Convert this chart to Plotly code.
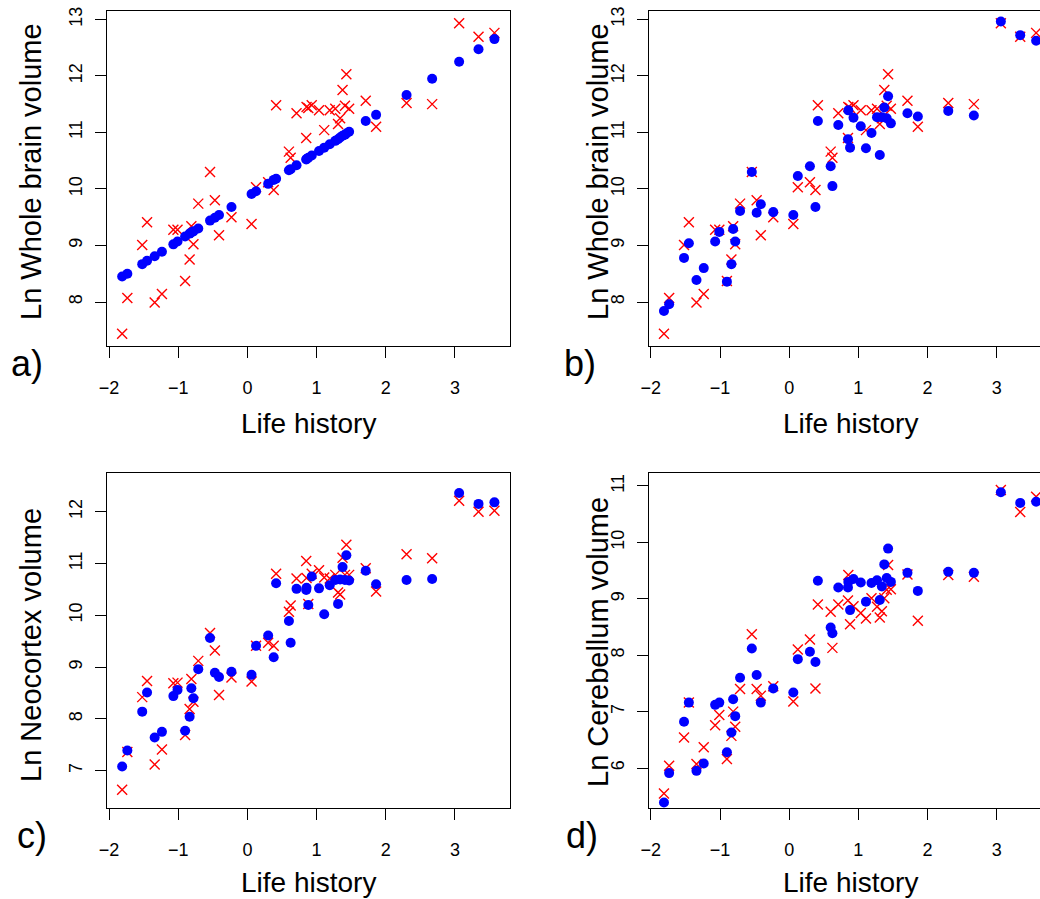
import plotly.graph_objects as go

# ---- data ----
life_history = [-1.81, -1.735, -1.52, -1.45, -1.34, -1.235, -1.07, -1.01, -0.90, -0.835,
                -0.81, -0.78, -0.71, -0.54, -0.47, -0.41, -0.23, 0.06, 0.125, 0.30,
                0.38, 0.415, 0.60, 0.625, 0.71, 0.855, 0.93, 0.85, 0.88, 1.035,
                1.11, 1.19, 1.27, 1.31, 1.34, 1.375, 1.41, 1.43, 1.47, 1.71,
                1.86, 2.30, 2.67, 3.06, 3.34, 3.57]

brain_obs = [7.44, 8.07, 9.01, 9.41, 7.99, 8.14, 9.28, 9.28, 8.37, 8.75,
             9.34, 9.02, 9.74, 10.30, 9.80, 9.18, 9.50, 9.38, 10.03, 10.12,
             9.98, 11.48, 10.66, 10.55, 11.34, 11.45, 11.48, 10.90, 11.43, 11.39,
             11.04, 11.39, 11.42, 11.15, 11.25, 11.75, 11.47, 12.03, 11.42, 11.56,
             11.10, 11.52, 11.50, 12.93, 12.69, 12.76]

brain_fit_a = [8.45, 8.50, 8.67, 8.73, 8.81, 8.89, 9.02, 9.07, 9.16, 9.21,
               9.23, 9.25, 9.30, 9.44, 9.49, 9.54, 9.68, 9.91, 9.96, 10.09,
               10.16, 10.18, 10.33, 10.35, 10.42, 10.53, 10.59, 10.52, 10.55, 10.67,
               10.73, 10.79, 10.85, 10.88, 10.91, 10.94, 10.96, 10.98, 11.01, 11.20,
               11.31, 11.66, 11.95, 12.25, 12.47, 12.65]

brain_fit_b = [7.84, 7.96, 8.78, 9.04, 8.39, 8.60, 9.07, 9.24, 8.36, 8.67,
               9.29, 9.07, 9.61, 10.30, 9.58, 9.73, 9.59, 9.54, 10.23, 10.40,
               9.68, 11.20, 10.40, 10.05, 11.13, 11.39, 11.26, 10.88, 10.73, 11.11,
               10.72, 10.99, 11.27, 10.60, 11.27, 11.44, 11.25, 11.64, 11.16, 11.34,
               11.28, 11.38, 11.30, 12.96, 12.72, 12.62]

neo_obs = [6.63, 7.36, 8.42, 8.73, 7.12, 7.41, 8.69, 8.70, 7.69, 8.19,
           8.77, 8.33, 9.12, 9.66, 9.32, 8.46, 8.80, 8.72, 9.41, 9.47,
           9.41, 10.80, 10.07, 10.19, 10.71, 10.72, 10.80, 11.05, 10.22, 10.87,
           10.73, 10.71, 10.78, 10.44, 10.40, 11.11, 10.78, 11.36, 10.78, 10.91,
           10.46, 11.18, 11.10, 12.21, 12.00, 12.02]

neo_fit = [7.08, 7.39, 8.14, 8.51, 7.64, 7.75, 8.44, 8.56, 7.77, 8.04,
           8.59, 8.40, 8.96, 9.56, 8.89, 8.81, 8.91, 8.85, 9.41, 9.61,
           9.19, 10.62, 9.89, 9.47, 10.51, 10.53, 10.75, 10.49, 10.20, 10.52,
           10.02, 10.58, 10.68, 10.22, 10.69, 10.93, 10.68, 11.16, 10.67, 10.86,
           10.60, 10.68, 10.70, 12.36, 12.15, 12.18]

cereb_obs = [5.55, 6.04, 6.54, 7.16, 6.07, 6.37, 6.76, 6.94, 6.16, 6.57,
             7.00, 6.73, 7.40, 8.37, 7.40, 7.28, 7.45, 7.18, 8.10, 8.28,
             7.41, 8.90, 8.77, 8.13, 8.90, 9.42, 8.87, 8.97, 8.55, 8.75,
             8.65, 9.01, 8.86, 8.67, 8.78, 9.01, 9.16, 9.60, 9.17, 9.43,
             8.61, 9.42, 9.39, 10.93, 10.54, 10.81]

cereb_fit = [5.39, 5.91, 6.82, 7.16, 5.95, 6.08, 7.12, 7.16, 6.28, 6.63,
             7.22, 6.92, 7.60, 8.12, 7.65, 7.16, 7.41, 7.34, 7.93, 8.06,
             7.88, 9.32, 8.49, 8.39, 9.20, 9.30, 9.35, 9.20, 8.80, 9.29,
             8.95, 9.28, 9.33, 8.98, 9.22, 9.61, 9.37, 9.89, 9.30, 9.46,
             9.14, 9.48, 9.46, 10.89, 10.70, 10.72]

x_ticks = [-2, -1, 0, 1, 2, 3]
y_ticks_a = [8, 9, 10, 11, 12, 13]
y_ticks_c = [7, 8, 9, 10, 11, 12]
y_ticks_d = [6, 7, 8, 9, 10, 11]

panel_letters = ["a)", "b)", "c)", "d)"]
y_titles = ["Ln Whole brain volume", "Ln Whole brain volume",
            "Ln Neocortex volume", "Ln Cerebellum volume"]
x_title = "Life history"

# ---- layout geometry ----
W, H = 1040, 899
FONT = "Liberation Sans, Arial, Helvetica, sans-serif"

def px_x(p):
    return p / W

def px_y(p):
    return 1 - p / H

panels = [
    dict(obs=brain_obs, fit=brain_fit_a, xdom=(107, 510), ydom=(11, 346),
         xr=(-2.029, 3.795), yr=(7.222, 13.147), yt=y_ticks_a, full=True),
    dict(obs=brain_obs, fit=brain_fit_b, xdom=(649.3, 1040), ydom=(11, 346),
         xr=(-2.022, 3.626), yr=(7.222, 13.147), yt=y_ticks_a, full=False),
    dict(obs=neo_obs, fit=neo_fit, xdom=(107, 510), ydom=(473.3, 808.3),
         xr=(-2.029, 3.795), yr=(6.274, 12.741), yt=y_ticks_c, full=True),
    dict(obs=cereb_obs, fit=cereb_fit, xdom=(649.3, 1040), ydom=(473.3, 808.3),
         xr=(-2.022, 3.626), yr=(5.286, 11.225), yt=y_ticks_d, full=False),
]

fig = go.Figure()
layout = dict(
    width=W, height=H,
    margin=dict(l=0, r=0, t=0, b=0, pad=0),
    paper_bgcolor="white", plot_bgcolor="white",
    showlegend=False,
    font=dict(family=FONT, color="black"),
)

axis_common = dict(
    showgrid=False, zeroline=False, showline=True, linecolor="black", linewidth=1.2,
    ticks="outside", ticklen=11, tickwidth=1.2, tickcolor="black",
    tickfont=dict(family=FONT, size=18, color="black"), automargin=False,
)

for i, p in enumerate(panels):
    n = "" if i == 0 else str(i + 1)
    xa, ya = "x" + n, "y" + n
    fig.add_trace(go.Scatter(
        x=life_history, y=p["obs"], mode="markers", xaxis=xa, yaxis=ya,
        marker=dict(symbol="x-thin", size=10, line=dict(color="#ff0000", width=1.4), color="#ff0000"),
        cliponaxis=True, hoverinfo="skip"))
    fig.add_trace(go.Scatter(
        x=life_history, y=p["fit"], mode="markers", xaxis=xa, yaxis=ya,
        marker=dict(symbol="circle", size=10, color="#0000ff", line=dict(width=0)),
        cliponaxis=True, hoverinfo="skip"))
    layout["xaxis" + n] = dict(
        axis_common, domain=[px_x(p["xdom"][0]), px_x(p["xdom"][1])],
        range=list(p["xr"]), tickvals=x_ticks, anchor=ya, mirror=True,
        ticklabelstandoff=14)
    layout["yaxis" + n] = dict(
        axis_common, domain=[px_y(p["ydom"][1]), px_y(p["ydom"][0])],
        range=list(p["yr"]), tickvals=p["yt"], anchor=xa,
        mirror=True if p["full"] else False, tickangle=-90,
        ticklabelstandoff=6)

fig.update_layout(**layout)

# axis titles and panel letters (as text annotations)
ann = []
ytitle_pos = [(31, 172), (598, 172), (31, 645), (598, 642)]
xtitle_pos = [(308.5, 423), (850.5, 423), (308.5, 882), (850.5, 882)]
letter_pos = [(27, 363), (580, 363), (32, 835), (582, 835)]
for i in range(4):
    ann.append(dict(x=px_x(ytitle_pos[i][0]), y=px_y(ytitle_pos[i][1]), xref="paper", yref="paper",
                    text=y_titles[i], showarrow=False, textangle=-90,
                    xanchor="center", yanchor="middle", font=dict(family=FONT, size=29)))
    ann.append(dict(x=px_x(xtitle_pos[i][0]), y=px_y(xtitle_pos[i][1]), xref="paper", yref="paper",
                    text=x_title, showarrow=False,
                    xanchor="center", yanchor="middle", font=dict(family=FONT, size=28)))
    ann.append(dict(x=px_x(letter_pos[i][0]), y=px_y(letter_pos[i][1]), xref="paper", yref="paper",
                    text=panel_letters[i], showarrow=False,
                    xanchor="center", yanchor="middle", font=dict(family=FONT, size=36)))
fig.update_layout(annotations=ann)

fig.write_html("out.html")
